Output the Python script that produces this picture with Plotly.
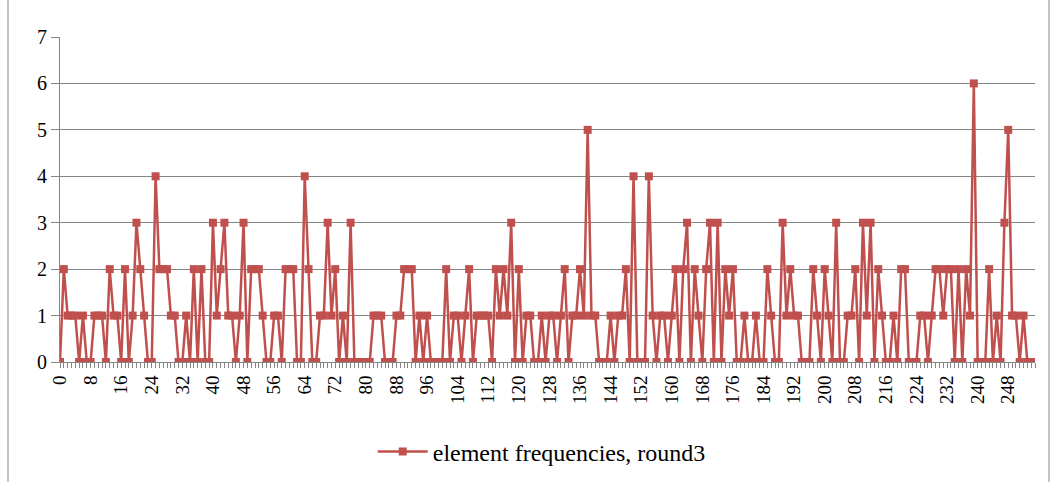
import plotly.graph_objects as go

series_name = "element frequencies, round3"
x_index = list(range(256))
frequencies = [
    0, 2, 1, 1, 1, 0, 1, 0, 0, 1, 1, 1, 0, 2, 1, 1,
    0, 2, 0, 1, 3, 2, 1, 0, 0, 4, 2, 2, 2, 1, 1, 0,
    0, 1, 0, 2, 0, 2, 0, 0, 3, 1, 2, 3, 1, 1, 0, 1,
    3, 0, 2, 2, 2, 1, 0, 0, 1, 1, 0, 2, 2, 2, 0, 0,
    4, 2, 0, 0, 1, 1, 3, 1, 2, 0, 1, 0, 3, 0, 0, 0,
    0, 0, 1, 1, 1, 0, 0, 0, 1, 1, 2, 2, 2, 0, 1, 0,
    1, 0, 0, 0, 0, 2, 0, 1, 1, 0, 1, 2, 0, 1, 1, 1,
    1, 0, 2, 1, 2, 1, 3, 0, 2, 0, 1, 1, 0, 0, 1, 0,
    1, 1, 0, 1, 2, 0, 1, 1, 2, 1, 5, 1, 1, 0, 0, 0,
    1, 0, 1, 1, 2, 0, 4, 0, 0, 0, 4, 1, 0, 1, 1, 0,
    1, 2, 0, 2, 3, 0, 2, 1, 0, 2, 3, 0, 3, 0, 2, 1,
    2, 0, 0, 1, 0, 0, 1, 0, 0, 2, 1, 0, 0, 3, 1, 2,
    1, 1, 0, 0, 0, 2, 1, 0, 2, 1, 0, 3, 0, 0, 1, 1,
    2, 0, 3, 1, 3, 0, 2, 1, 0, 0, 1, 0, 2, 2, 0, 0,
    0, 1, 1, 0, 1, 2, 2, 1, 2, 2, 0, 2, 0, 2, 1, 6,
    0, 0, 0, 2, 0, 1, 0, 3, 5, 1, 1, 0, 1, 0, 0, 0,
]
x_tick_values = list(range(0, 256, 8))
x_tick_labels = [str(v) for v in x_tick_values]
y_tick_values = list(range(0, 8))

color = "#C0504D"
font_family = "Liberation Serif"

fig = go.Figure()
fig.add_trace(go.Scatter(
    x=x_index, y=frequencies, mode="lines+markers", name=series_name,
    line=dict(color=color, width=2.5),
    marker=dict(symbol="square", size=8, color=color),
    showlegend=True,
))

W, H = 1056, 482
ml, mr, mt, mb = 60, 21, 37, 120
pw, ph = W - ml - mr, H - mt - mb

fig.update_layout(
    width=W, height=H,
    margin=dict(l=ml, r=mr, t=mt, b=mb),
    paper_bgcolor="white", plot_bgcolor="white",
    font=dict(family=font_family, size=18, color="black"),
    showlegend=True,
    legend=dict(orientation="h", x=0.513, xanchor="center", xref="container",
                y=(H - 452) / H, yanchor="middle", yref="container",
                font=dict(family=font_family, size=24, color="black"), itemwidth=50),
    xaxis=dict(range=[0, 255], tickmode="array", tickvals=x_tick_values, ticktext=x_tick_labels,
               tickangle=-90, ticks="outside", ticklen=5, tickcolor="#868686", automargin=False,
               showline=True, linecolor="#868686", linewidth=1, showgrid=False, zeroline=False,
               minor=dict(dtick=1, tick0=0, ticks="outside", ticklen=5, tickcolor="#868686"),
               tickfont=dict(family=font_family, size=19)),
    yaxis=dict(range=[0, 7], tickmode="array", tickvals=y_tick_values, ticks="outside", ticklen=8,
               tickcolor="#868686", showline=True, linecolor="#868686", linewidth=1, automargin=False,
               showgrid=True, gridcolor="#868686", gridwidth=1, zeroline=False,
               tickfont=dict(family=font_family, size=20)),
    shapes=[dict(type="rect", xref="paper", yref="paper",
                 x0=(8 - ml) / pw, x1=(1049 - ml) / pw,
                 y0=-(H - mt - ph + 10) / ph, y1=(mt + ph) / ph + 0.01,
                 line=dict(color="#888888", width=1), fillcolor="rgba(0,0,0,0)", layer="below")],
)

fig.write_html("out.html")
